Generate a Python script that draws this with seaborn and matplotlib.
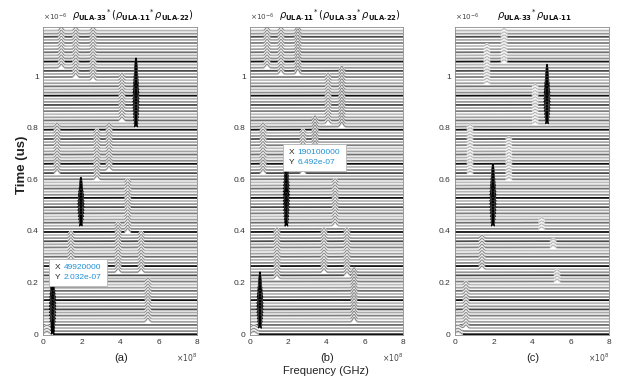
import numpy as np
import pandas as pd
import matplotlib
matplotlib.use("Agg")
import matplotlib.pyplot as plt
import seaborn as sns
from matplotlib.ticker import FixedLocator, FuncFormatter
from matplotlib.offsetbox import TextArea, VPacker, HPacker, AnnotationBbox

# ---- sampling of the waterfall ----
freq_max = 8.0          # x 1e8 Hz
n_freq = 1601
time_step = 0.012       # us between stacked traces
n_traces = 99

# ---- spectral features: centre freq (x1e8 Hz), first / last trace time (us),
#      peak height (in trace steps), half-width (x1e8 Hz) ----
peak_freq_a = [0.95, 1.70, 2.60, 4.10, 4.83, 0.73, 2.80, 3.43, 1.97, 4.40, 1.45, 3.90, 5.10, 5.45, 0.4992, 0.20]
peak_t0_a   = [1.03, 0.99, 0.98, 0.82, 0.80, 0.615, 0.60, 0.63, 0.42, 0.39, 0.27, 0.24, 0.24, 0.045, 0.0, 0.0]
peak_t1_a   = [1.18, 1.18, 1.18, 1.00, 1.02, 0.81, 0.79, 0.815, 0.575, 0.59, 0.39, 0.42, 0.39, 0.21, 0.2032, 0.03]
peak_h_a    = [1.15, 1.15, 1.15, 1.15, 4.0, 1.15, 1.15, 1.15, 3.5, 1.15, 1.15, 1.15, 1.15, 1.15, 4.0, 0.9]
peak_w_a    = [0.075, 0.075, 0.075, 0.075, 0.05, 0.075, 0.075, 0.075, 0.05, 0.075, 0.075, 0.075, 0.075, 0.075, 0.05, 0.12]

peak_freq_b = [0.89, 1.62, 2.50, 4.08, 4.80, 0.68, 2.77, 3.40, 1.901, 4.45, 1.41, 3.87, 5.07, 5.44, 0.52, 0.20]
peak_t0_b   = [1.03, 1.00, 1.00, 0.81, 0.80, 0.62, 0.615, 0.71, 0.415, 0.41, 0.21, 0.24, 0.22, 0.045, 0.02, 0.0]
peak_t1_b   = [1.18, 1.18, 1.18, 1.00, 1.03, 0.815, 0.79, 0.83, 0.6492, 0.59, 0.40, 0.40, 0.40, 0.24, 0.20, 0.03]
peak_h_b    = [1.15, 1.15, 1.5, 1.15, 1.4, 1.15, 1.15, 1.4, 2.5, 1.15, 1.15, 1.15, 1.15, 1.4, 4.0, 0.9]
peak_w_b    = [0.075, 0.075, 0.075, 0.075, 0.075, 0.075, 0.075, 0.075, 0.05, 0.075, 0.075, 0.075, 0.075, 0.075, 0.05, 0.12]

peak_freq_c = [2.55, 1.66, 4.78, 0.78, 2.80, 4.16, 1.97, 4.50, 1.40, 5.10, 5.30, 0.57, 0.15]
peak_t0_c   = [1.05, 0.97, 0.815, 0.62, 0.60, 0.81, 0.415, 0.40, 0.25, 0.33, 0.20, 0.02, 0.0]
peak_t1_c   = [1.18, 1.12, 1.00, 0.815, 0.76, 0.96, 0.62, 0.45, 0.38, 0.37, 0.25, 0.20, 0.03]
peak_h_c    = [0.6, 0.6, 4.0, 0.6, 0.6, 0.6, 4.0, 0.6, 1.0, 0.8, 0.8, 1.0, 0.9]
peak_w_c    = [0.075, 0.075, 0.05, 0.075, 0.075, 0.075, 0.05, 0.075, 0.075, 0.075, 0.075, 0.075, 0.12]

titles = [
    r"$\rho_{\mathbf{ULA\text{-}33}}{}^{*}\,(\rho_{\mathbf{ULA\text{-}11}}{}^{*}\,\rho_{\mathbf{ULA\text{-}22}})$",
    r"$\rho_{\mathbf{ULA\text{-}11}}{}^{*}\,(\rho_{\mathbf{ULA\text{-}33}}{}^{*}\,\rho_{\mathbf{ULA\text{-}22}})$",
    r"$\rho_{\mathbf{ULA\text{-}33}}{}^{*}\,\rho_{\mathbf{ULA\text{-}11}}$",
]
panel_labels = ["(a)", "(b)", "(c)"]
x_ticks = [0, 2, 4, 6, 8]               # x 1e8
y_ticks = [0, 0.2, 0.4, 0.6, 0.8, 1.0]  # x 1e-6

# data tips: panel index, x (Hz), y (s)
tip_panel = [0, 1]
tip_x = [49920000, 190100000]
tip_y = [2.032e-07, 6.492e-07]

# grey levels cycling through the stacked traces
trace_greys = ["#101010", "#8e8e8e", "#b4b4b4", "#6e6e6e", "#a0a0a0",
               "#bdbdbd", "#7e7e7e", "#aaaaaa", "#4a4a4a", "#969696", "#b8b8b8"]
bead_grey = "#858585"
faint_grey = "#b0b0b0"

sns.set_theme(style="white")
plt.rcParams["font.family"] = ["Liberation Sans", "DejaVu Sans"]
plt.rcParams["mathtext.fontset"] = "dejavusans"

BLACK_H = 2.5   # features at least this tall are drawn as dark spikes


def build_traces(pf, t0, t1, ph, pw):
    freq = np.linspace(0, freq_max, n_freq)
    times = np.arange(n_traces) * time_step
    vals = np.tile(times[:, None], (1, n_freq))
    spikes = []   # (trace index, centre, width) of dark spikes
    beads = []    # (trace index, centre, width, height) of small bumps
    for f0, a, b, h, w in zip(pf, t0, t1, ph, pw):
        for i, t in enumerate(times):
            if a - 1e-9 <= t <= b + 1e-9:
                span = max(b - a, 1e-9)
                u = (t - a) / span
                width = w * (0.4 + 0.6 * np.sin(np.pi * u)) if h >= BLACK_H else w
                vals[i] += h * time_step * np.exp(-0.5 * ((freq - f0) / width) ** 2)
                if h >= BLACK_H:
                    spikes.append((i, f0, width))
                else:
                    beads.append((i, f0, width, h))
    return freq, times, vals, spikes, beads


fig = plt.figure(figsize=(6.18, 3.76), dpi=100)
lefts = [43 / 618, 250 / 618, 455 / 618]
widths = [154 / 618, 153 / 618, 154 / 618]
bottom = 1 - 335 / 376
height = (335 - 27) / 376
title_left = [0.19, 0.19, 0.27]

panels = [
    (peak_freq_a, peak_t0_a, peak_t1_a, peak_h_a, peak_w_a),
    (peak_freq_b, peak_t0_b, peak_t1_b, peak_h_b, peak_w_b),
    (peak_freq_c, peak_t0_c, peak_t1_c, peak_h_c, peak_w_c),
]

axes = []
for k, spec in enumerate(panels):
    ax = fig.add_axes([lefts[k], bottom, widths[k], height])
    axes.append(ax)
    freq, times, vals, spikes, beads = build_traces(*spec)
    f_hz = freq * 1e8
    df = pd.DataFrame({
        "freq": np.tile(f_hz, n_traces),
        "time": (vals * 1e-6).ravel(),
        "trace": np.repeat(np.arange(n_traces), n_freq),
    })
    colors = [trace_greys[i % len(trace_greys)] for i in range(n_traces)]
    sns.lineplot(data=df, x="freq", y="time", hue="trace", palette=colors,
                 estimator=None, sort=False, legend=False, lw=1.3, ax=ax)
    zorders = {}
    # lower traces overlap upper ones: white fill under each bump
    for i, line in enumerate(ax.lines[:n_traces]):
        z = 1 + (n_traces - 1 - i) * 0.01
        zorders[i] = z
        line.set_zorder(z + 0.005)
        base = times[i] * 1e-6
        yv = vals[i] * 1e-6
        mask = yv > base + 1e-12
        if mask.any():
            ax.fill_between(f_hz, base, yv, where=mask, color="white", lw=0, zorder=z)
    # small bumps: thin outline on white
    for i, f0, w, h in beads:
        sel = np.abs(freq - f0) < 2.2 * w
        ax.plot(f_hz[sel], vals[i][sel] * 1e-6, color="white", lw=1.6,
                solid_capstyle="butt", zorder=zorders[i] + 0.006)
        ax.plot(f_hz[sel], vals[i][sel] * 1e-6,
                color=bead_grey if h >= 0.9 else faint_grey,
                lw=0.85 if h >= 1.3 else 0.75, zorder=zorders[i] + 0.0065)
    # tall peaks drawn dark
    for i, f0, w in spikes:
        sel = np.abs(freq - f0) < 3.0 * w
        ax.plot(f_hz[sel], vals[i][sel] * 1e-6, color="black", lw=1.2,
                zorder=zorders[i] + 0.007)

    ax.set_xlim(0, 8e8)
    ax.set_ylim(-0.003e-6, 1.19e-6)
    ax.xaxis.set_major_locator(FixedLocator([v * 1e8 for v in x_ticks]))
    ax.yaxis.set_major_locator(FixedLocator([v * 1e-6 for v in y_ticks]))
    ax.xaxis.set_major_formatter(FuncFormatter(lambda v, p: f"{v / 1e8:g}"))
    ax.yaxis.set_major_formatter(FuncFormatter(lambda v, p: f"{v / 1e-6:g}"))
    ax.tick_params(axis="both", direction="in", length=2, labelsize=6,
                   colors="#333333", pad=3)
    ax.set_xlabel("")
    ax.set_ylabel("")
    for s in ax.spines.values():
        s.set_color("#8a8a8a")
        s.set_linewidth(0.6)
        s.set_zorder(5)

    ax.text(0.0, 1.012, r"$\times10^{-6}$", transform=ax.transAxes, fontsize=5.2,
            ha="left", va="bottom", color="#444444")
    ax.text(1.0, -0.075, r"$\times10^{8}$", transform=ax.transAxes, fontsize=5.5,
            ha="right", va="center", color="#444444")
    ax.text(0.506, -0.075, panel_labels[k], transform=ax.transAxes, fontsize=8,
            ha="center", va="center", color="#222222")
    ax.text(title_left[k], 1 + 12 / 308, titles[k], transform=ax.transAxes, fontsize=7.1,
            ha="left", va="center", color="#111111")

for p, xv, yv in zip(tip_panel, tip_x, tip_y):
    ax = axes[p]
    tp_k = dict(color="#222222", size=6)
    tp_v = dict(color="#1e90d6", size=6)
    lab = VPacker(children=[TextArea("X", textprops=tp_k), TextArea("Y", textprops=tp_k)],
                  align="left", pad=0, sep=2)
    val = VPacker(children=[TextArea(f"{xv:d}", textprops=tp_v),
                            TextArea(f"{yv:.3e}", textprops=tp_v)],
                  align="left", pad=0, sep=2)
    box = HPacker(children=[lab, val], align="top", pad=0, sep=2.5)
    ab = AnnotationBbox(box, (xv, yv), xybox=(1.5, 0.5), xycoords="data",
                        boxcoords="offset points", box_alignment=(0, 0), frameon=True,
                        pad=0.35, bboxprops=dict(facecolor="white", edgecolor="#b5b5b5", lw=0.6))
    ab.set_zorder(20)
    ax.add_artist(ab)

fig.text(326 / 618, 1 - 371 / 376, "Frequency (GHz)", fontsize=8, ha="center",
         va="center", color="#222222")
fig.text(22 / 618, 1 - 165 / 376, "Time (us)", fontsize=9.5, fontweight="bold",
         rotation=90, ha="center", va="center", color="#222222")

fig.savefig("out.png", dpi=100)
